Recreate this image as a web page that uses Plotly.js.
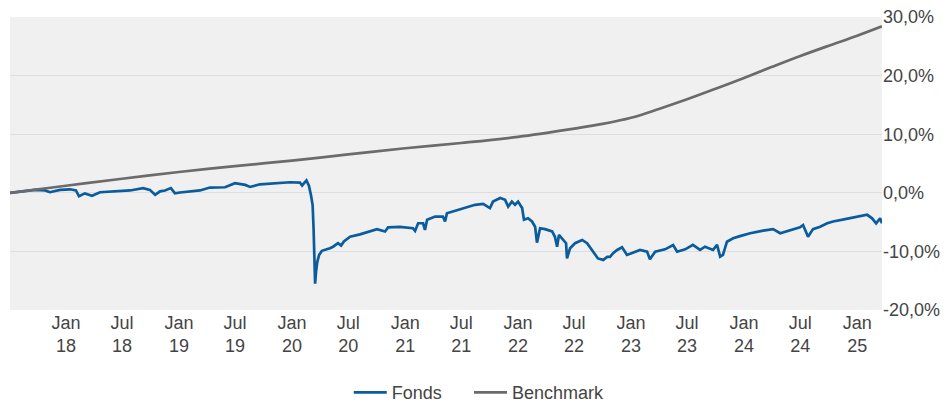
<!DOCTYPE html>
<html>
<head>
<meta charset="utf-8">
<script src="https://cdn.plot.ly/plotly-3.0.1.min.js"></script>
<style>html,body{margin:0;padding:0;background:#fff;}#chart{width:947px;height:403px;}</style>
</head>
<body>
<div id="chart"></div>
<script>
// Fonds (cumulative performance, %)
var fondsDates = [
"2017-07-04","2017-08-05","2017-09-07","2017-09-23","2017-10-25","2017-11-10","2017-12-13",
"2018-01-14","2018-02-02","2018-02-12","2018-03-03","2018-03-26","2018-04-21","2018-06-02",
"2018-07-27","2018-09-07","2018-09-29","2018-10-16","2018-11-01","2018-11-17","2018-12-06",
"2018-12-19","2019-01-04","2019-03-10","2019-04-11","2019-05-30","2019-07-01","2019-08-03",
"2019-08-19","2019-09-20","2019-11-07","2019-12-26","2020-01-27","2020-02-03","2020-02-17",
"2020-02-25","2020-03-03","2020-03-08","2020-03-11","2020-03-13","2020-03-16","2020-03-19",
"2020-03-23","2020-03-29","2020-04-07","2020-05-03","2020-05-13","2020-05-29","2020-06-08",
"2020-06-17","2020-07-07","2020-08-08","2020-09-10","2020-10-02","2020-10-28","2020-11-07",
"2020-12-15","2021-01-26","2021-02-02","2021-02-12","2021-02-28","2021-03-06","2021-03-13",
"2021-04-08","2021-05-03","2021-05-10","2021-05-16","2021-06-27","2021-08-15","2021-09-10",
"2021-10-02","2021-10-12","2021-11-04","2021-11-20","2021-11-30","2021-12-12","2021-12-22",
"2022-01-01","2022-01-14","2022-01-20","2022-02-02","2022-02-15","2022-02-25","2022-03-03",
"2022-03-13","2022-03-29","2022-04-21","2022-04-30","2022-05-07","2022-05-13","2022-05-26",
"2022-06-05","2022-06-08","2022-06-18","2022-07-04","2022-07-27","2022-08-12","2022-08-31",
"2022-09-16","2022-10-03","2022-10-16","2022-10-25","2022-11-04","2022-11-17","2022-12-03",
"2022-12-19","2023-01-04","2023-01-30","2023-02-22","2023-03-03","2023-03-20","2023-04-21",
"2023-05-17","2023-05-30","2023-06-25","2023-07-20","2023-08-12","2023-08-28","2023-09-23",
"2023-10-06","2023-10-16","2023-10-25","2023-11-07","2023-11-27","2023-12-19","2024-01-21",
"2024-03-03","2024-04-04","2024-04-27","2024-05-29","2024-06-30","2024-07-10","2024-07-26",
"2024-08-11","2024-09-03","2024-09-26","2024-10-15","2024-11-23","2025-01-10","2025-02-02",
"2025-02-18","2025-03-03","2025-03-16","2025-03-22"
];
var fondsValues = [
0.0,0.15,0.3,0.5,0.4,0.1,0.5,
0.6,0.4,-0.6,-0.1,-0.5,0.1,0.2,
0.4,0.8,0.5,-0.35,0.25,0.4,0.8,
-0.1,0.05,0.4,0.9,0.95,1.65,1.35,
1.0,1.45,1.65,1.8,1.75,1.25,2.1,
1.2,-0.5,-2.1,-6.0,-11.8,-15.5,-13.5,
-11.8,-10.6,-9.9,-9.45,-9.2,-8.6,-9.0,
-8.3,-7.5,-7.1,-6.6,-6.2,-6.6,-5.9,
-5.8,-6.05,-6.5,-5.2,-5.2,-6.35,-4.6,
-4.05,-4.05,-4.9,-3.5,-2.8,-2.05,-1.9,
-2.6,-1.5,-0.9,-1.2,-2.35,-1.5,-2.05,
-1.5,-2.6,-4.6,-4.35,-4.9,-5.8,-8.5,
-6.05,-6.2,-6.6,-7.5,-9.2,-7.2,-8.05,
-8.6,-11.2,-9.45,-8.6,-8.05,-8.6,-10.05,
-11.2,-11.45,-10.95,-10.95,-10.3,-9.75,-9.3,
-10.6,-10.3,-9.75,-10.05,-11.35,-10.05,-9.65,
-8.9,-10.05,-9.65,-8.9,-9.75,-9.2,-9.75,
-8.9,-10.9,-10.6,-8.35,-7.75,-7.4,-6.9,
-6.45,-6.2,-6.9,-6.45,-5.9,-5.5,-7.5,
-6.2,-5.8,-5.2,-4.9,-4.5,-4.05,-3.75,
-4.35,-5.2,-4.35,-5.2
];

// Benchmark (cumulative performance, %)
var benchDates = [
"2017-07-04","2018-01-01","2018-07-01","2019-01-01","2019-07-01","2020-01-01","2020-07-01",
"2021-01-01","2021-07-01","2022-01-01","2022-07-01","2022-10-01","2023-01-01","2023-04-01",
"2023-07-01","2023-10-01","2024-01-01","2024-04-01","2024-07-01","2024-10-01","2025-01-01",
"2025-03-22"
];
var benchValues = [
0.0,1.2,2.4,3.55,4.55,5.5,6.55,
7.6,8.5,9.55,10.95,11.75,12.8,14.3,
15.95,17.75,19.6,21.5,23.35,25.1,26.8,
28.4
];

// Axis ticks
var xTickVals = ["2018-01-01","2018-07-01","2019-01-01","2019-07-01","2020-01-01","2020-07-01",
"2021-01-01","2021-07-01","2022-01-01","2022-07-01","2023-01-01","2023-07-01",
"2024-01-01","2024-07-01","2025-01-01"];
var xTickText = ["Jan<br>18","Jul<br>18","Jan<br>19","Jul<br>19","Jan<br>20","Jul<br>20",
"Jan<br>21","Jul<br>21","Jan<br>22","Jul<br>22","Jan<br>23","Jul<br>23",
"Jan<br>24","Jul<br>24","Jan<br>25"];
var yTickVals = [-20,-10,0,10,20,30];
var yTickText = yTickVals.map(function(v){ return v.toFixed(1).replace('.', ',') + '%'; });

var font = {family: '"Liberation Sans", Arial, sans-serif', size: 18, color: '#444444'};

var traces = [
  {x: fondsDates, y: fondsValues, type: 'scatter', mode: 'lines', name: 'Fonds',
   legend: 'legend', line: {color: '#0a5c9c', width: 2.7}},
  {x: benchDates, y: benchValues, type: 'scatter', mode: 'lines', name: 'Benchmark',
   legend: 'legend2', line: {color: '#6b6b6e', width: 2.7, shape: 'spline', smoothing: 1}}
];

var legendBase = {orientation: 'h', xanchor: 'left', y: -0.345, yanchor: 'bottom', itemwidth: 33,
                  font: {family: font.family, size: 18, color: '#444444'}};

var layout = {
  width: 947, height: 403,
  margin: {l: 10, r: 65, t: 17, b: 93, autoexpand: false},
  paper_bgcolor: '#ffffff',
  plot_bgcolor: '#f0f0f0',
  font: font,
  showlegend: true,
  legend: Object.assign({}, legendBase, {x: 0.3885}),
  legend2: Object.assign({}, legendBase, {x: 0.5264}),
  xaxis: {
    type: 'date',
    range: ['2017-07-04', '2025-03-22'],
    tickvals: xTickVals, ticktext: xTickText,
    showgrid: false, zeroline: false, showline: false, ticks: '',
    tickfont: font, fixedrange: true, automargin: false
  },
  yaxis: {
    side: 'right',
    range: [-20, 30],
    tickvals: yTickVals, ticktext: yTickText,
    showgrid: true, gridcolor: '#dedede', gridwidth: 1,
    zeroline: false, showline: false, ticks: '',
    tickfont: font, fixedrange: true, automargin: false
  }
};

Plotly.newPlot('chart', traces, layout, {displayModeBar: false, staticPlot: true});
</script>
</body>
</html>
